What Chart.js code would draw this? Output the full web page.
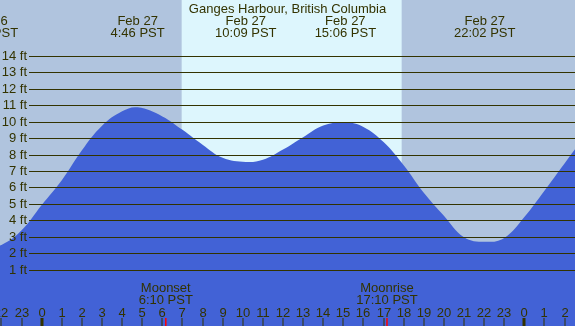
<!DOCTYPE html>
<html>
<head>
<meta charset="utf-8">
<title>Ganges Harbour tides</title>
<script src="https://cdn.jsdelivr.net/npm/chart.js@4"></script>
<style>
  html, body { margin: 0; padding: 0; background: #fff; }
  #wrap { width: 575px; height: 326px; }
</style>
</head>
<body>
<div id="wrap"><canvas id="tide-canvas" width="575" height="326"></canvas></div>
<script>
// tide height (ft), hours from midnight Feb 27
const tideHours = [-2.7, -2, -1, 0, 1, 2, 3, 4, 4.77, 6, 7, 8, 9, 10.15, 11, 12, 13, 14, 15.1, 16, 17, 18, 19, 20, 21, 22.03, 23, 24, 25, 26, 26.6];
const tideFeet  = [2.42, 2.5, 3.39, 4.93, 6.44, 8.26, 9.75, 10.63, 10.87, 10.32, 9.5, 8.6, 7.8, 7.55, 7.68, 8.3, 9.05, 9.76, 9.96, 9.68, 8.76, 7.35, 5.68, 4.28, 2.97, 2.69, 2.93, 4.2, 5.8, 7.46, 8.45];

const extremeHours = [-2.7, 4.77, 10.15, 15.1, 22.03];
const extremeDates = ['Feb 26', 'Feb 27', 'Feb 27', 'Feb 27', 'Feb 27'];
const extremeTimes = ['21:18 PST', '4:46 PST', '10:09 PST', '15:06 PST', '22:02 PST'];

const sunriseHour = 6.96;
const sunsetHour  = 17.9;

const moonHours  = [6.17, 17.17];
const moonNames  = ['Moonset', 'Moonrise'];
const moonTimes  = ['6:10 PST', '17:10 PST'];

const depthTicks = [1, 2, 3, 4, 5, 6, 7, 8, 9, 10, 11, 12, 13, 14];
const hourTicks  = [-2, -1, 0, 1, 2, 3, 4, 5, 6, 7, 8, 9, 10, 11, 12, 13, 14, 15, 16, 17, 18, 19, 20, 21, 22, 23, 24, 25, 26];
const hourLabels = ['22', '23', '0', '1', '2', '3', '4', '5', '6', '7', '8', '9', '10', '11', '12', '13', '14', '15', '16', '17', '18', '19', '20', '21', '22', '23', '0', '1', '2'];

const TITLE = 'Ganges Harbour, British Columbia';
const FONT = '13px "Liberation Sans", Arial, sans-serif';
const INK = '#333300';

const decor = {
  id: 'tideDecor',
  beforeDatasetsDraw(chart) {
    const { ctx, chartArea: a, scales: { x } } = chart;
    ctx.save();
    ctx.fillStyle = '#b0c4de';
    ctx.fillRect(a.left, a.top, a.right - a.left, a.bottom - a.top);
    const x0 = x.getPixelForValue(sunriseHour);
    const x1 = x.getPixelForValue(sunsetHour);
    ctx.fillStyle = '#ddf6fd';
    ctx.fillRect(x0, a.top, x1 - x0, a.bottom - a.top);
    ctx.restore();
  },
  afterDatasetsDraw(chart) {
    const { ctx, chartArea: a, scales: { x, y } } = chart;
    ctx.save();
    ctx.font = FONT;
    ctx.fillStyle = INK;

    // depth grid + labels
    ctx.strokeStyle = INK;
    ctx.lineWidth = 1;
    ctx.textAlign = 'right';
    ctx.textBaseline = 'middle';
    depthTicks.forEach(ft => {
      const py = Math.round(y.getPixelForValue(ft)) + 0.5;
      ctx.beginPath();
      ctx.moveTo(29, py);
      ctx.lineTo(a.right, py);
      ctx.stroke();
      ctx.fillText(`${ft} ft`, 27, py);
    });

    // title + high/low labels
    ctx.textAlign = 'center';
    ctx.textBaseline = 'alphabetic';
    ctx.fillText(TITLE, (a.left + a.right) / 2, 12.5);
    extremeHours.forEach((h, i) => {
      const px = x.getPixelForValue(h);
      ctx.fillText(extremeDates[i], px, 24.5);
      ctx.fillText(extremeTimes[i], px, 36.5);
    });

    // moon labels
    moonHours.forEach((h, i) => {
      const px = x.getPixelForValue(h);
      ctx.fillText(moonNames[i], px, 292);
      ctx.fillText(moonTimes[i], px, 304);
    });

    // hour ticks
    hourTicks.forEach((h, i) => {
      const px = Math.round(x.getPixelForValue(h));
      const midnight = hourLabels[i] === '0';
      ctx.fillText(hourLabels[i], px, 316.5);
      ctx.fillRect(midnight ? px - 1.5 : px - 0.5, 318, midnight ? 3 : 1, 8);
    });
    ctx.fillStyle = '#ff0000';
    moonHours.forEach(h => {
      const px = x.getPixelForValue(h);
      ctx.fillRect(px - 0.75, 318, 1.5, 8);
    });
    ctx.restore();
  }
};

new Chart(document.getElementById('tide-canvas'), {
  type: 'line',
  data: {
    datasets: [{
      data: tideHours.map((h, i) => ({ x: h, y: tideFeet[i] })),
      backgroundColor: '#4262d6',
      borderColor: '#4262d6',
      borderWidth: 0,
      pointRadius: 0,
      fill: 'start',
      tension: 0.4
    }]
  },
  options: {
    responsive: false,
    animation: false,
    layout: { padding: 0 },
    scales: {
      x: { type: 'linear', min: -2.074, max: 26.52, display: false },
      y: { min: -2.43, max: 17.4, display: false }
    },
    plugins: { legend: { display: false }, tooltip: { enabled: false } }
  },
  plugins: [decor]
});
</script>
</body>
</html>
